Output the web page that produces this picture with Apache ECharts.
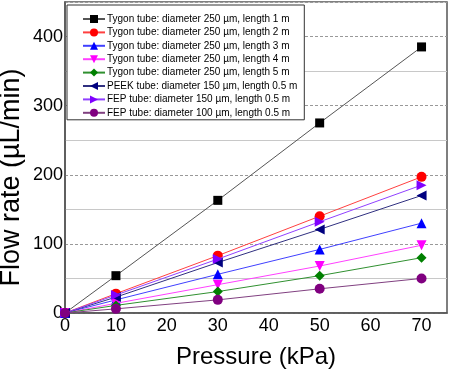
<!DOCTYPE html>
<html><head><meta charset="utf-8">
<script src="https://cdn.jsdelivr.net/npm/echarts@6/dist/echarts.min.js"></script>
<style>html,body{margin:0;padding:0;background:#fff}#c{width:459px;height:378px}</style>
</head><body><div id="c"></div>
<script>
var pressure = [0, 10, 30, 50, 70];
var names = [
  "Tygon tube: diameter 250 µm, length 1 m",
  "Tygon tube: diameter 250 µm, length 2 m",
  "Tygon tube: diameter 250 µm, length 3 m",
  "Tygon tube: diameter 250 µm, length 4 m",
  "Tygon tube: diameter 250 µm, length 5 m",
  "PEEK tube: diameter 150 µm, length 0.5 m",
  "FEP tube: diameter 150 µm, length 0.5 m",
  "FEP tube: diameter 100 µm, length 0.5 m"
];
var tygon1m = [0, 54, 163, 275, 385];
var tygon2m = [0, 28, 83, 140, 197];
var tygon3m = [0, 19, 56, 92, 130];
var tygon4m = [0, 14, 41, 68, 98];
var tygon5m = [0, 11, 31, 54, 80];
var peek150 = [0, 23, 73, 121, 170];
var fep150 = [0, 26, 78, 132, 185];
var fep100 = [0, 6, 19, 35, 50];
var xTicks = [0, 10, 20, 30, 40, 50, 60, 70];
var yTicks = [0, 100, 200, 300, 400];

var allData = [tygon1m, tygon2m, tygon3m, tygon4m, tygon5m, peek150, fep150, fep100];
var colors = ['#000000', '#ff0000', '#0000ff', '#ff00ff', '#008000', '#000080', '#8000ff', '#800080'];
var lineColors = ['#555555', '#ff4040', '#4040ff', '#ff40ff', '#309030', '#303080', '#9040ff', '#804080'];
var symbols = ['rect', 'circle', 'triangle', 'triangle', 'diamond', 'triangle', 'triangle', 'circle'];
var rotates = [0, 0, 0, 180, 0, 90, -90, 0];
var sizes = [9, 10, 10, 10, 10, 10, 10, 10];
var font = "'Liberation Sans', Arial, sans-serif";

var series = allData.map(function (d, i) {
  return {
    name: names[i], type: 'line', yAxisIndex: 0,
    data: d.map(function (v, j) { return [pressure[j], v]; }),
    symbol: symbols[i], symbolRotate: rotates[i], symbolSize: sizes[i],
    itemStyle: { color: colors[i] },
    lineStyle: { color: lineColors[i], width: 1 },
    z: 3 + i
  };
});

var chart = echarts.init(document.getElementById('c'));
chart.setOption({
  animation: false,
  grid: { left: 65, right: 12, top: 2, bottom: 65, show: true, borderColor: '#555', borderWidth: 1.5,
    backgroundColor: 'transparent', containLabel: false, outerBoundsMode: 'none' },
  legend: {
    orient: 'vertical', left: 67, top: 5,
    padding: [9, 7, 2, 15],
    itemWidth: 22, itemHeight: 10, itemGap: 3.4,
    backgroundColor: '#fff', borderColor: '#333', borderWidth: 1,
    textStyle: { fontFamily: font, fontSize: 10, color: '#000', padding: [0, 0, 0, -3] },
    data: names
  },
  xAxis: {
    type: 'value', min: 0, max: 75, interval: 10,
    axisLine: { show: true, lineStyle: { color: '#555', width: 1.5 } },
    axisTick: { show: false },
    splitLine: { show: false },
    axisLabel: { fontFamily: font, fontSize: 18, color: '#000', margin: 4, showMaxLabel: false,
      formatter: function (v) { return xTicks.indexOf(v) >= 0 ? String(v) : ''; } },
    name: 'Pressure (kPa)', nameLocation: 'middle', nameGap: 32, nameMoveOverlap: false,
    nameTextStyle: { fontFamily: font, fontSize: 24, color: '#000' }
  },
  yAxis: [{
    type: 'value', min: 0, max: 450, interval: 50,
    axisLine: { show: true, lineStyle: { color: '#555', width: 1.5 } },
    axisTick: { show: false },
    splitLine: { show: true, lineStyle: { color: ['rgba(0,0,0,0)', '#c8c8c8'], width: 1, type: 'solid' } },
    axisLabel: { fontFamily: font, fontSize: 18, color: '#000', margin: 2,
      formatter: function (v) { return yTicks.indexOf(v) >= 0 ? String(v) : ''; } },
    name: 'Flow rate (µL/min)', nameLocation: 'middle', nameGap: 40, nameMoveOverlap: false,
    nameTextStyle: { fontFamily: font, fontSize: 27, color: '#000', padding: [0, 40, 0, 0] }
  }, {
    type: 'value', min: 0, max: 450, interval: 100, position: 'left',
    axisLine: { show: false }, axisTick: { show: false }, axisLabel: { show: false },
    splitLine: { show: true, lineStyle: { color: '#999', width: 1, type: [3, 2] } }
  }],
  series: series
});
</script></body></html>
